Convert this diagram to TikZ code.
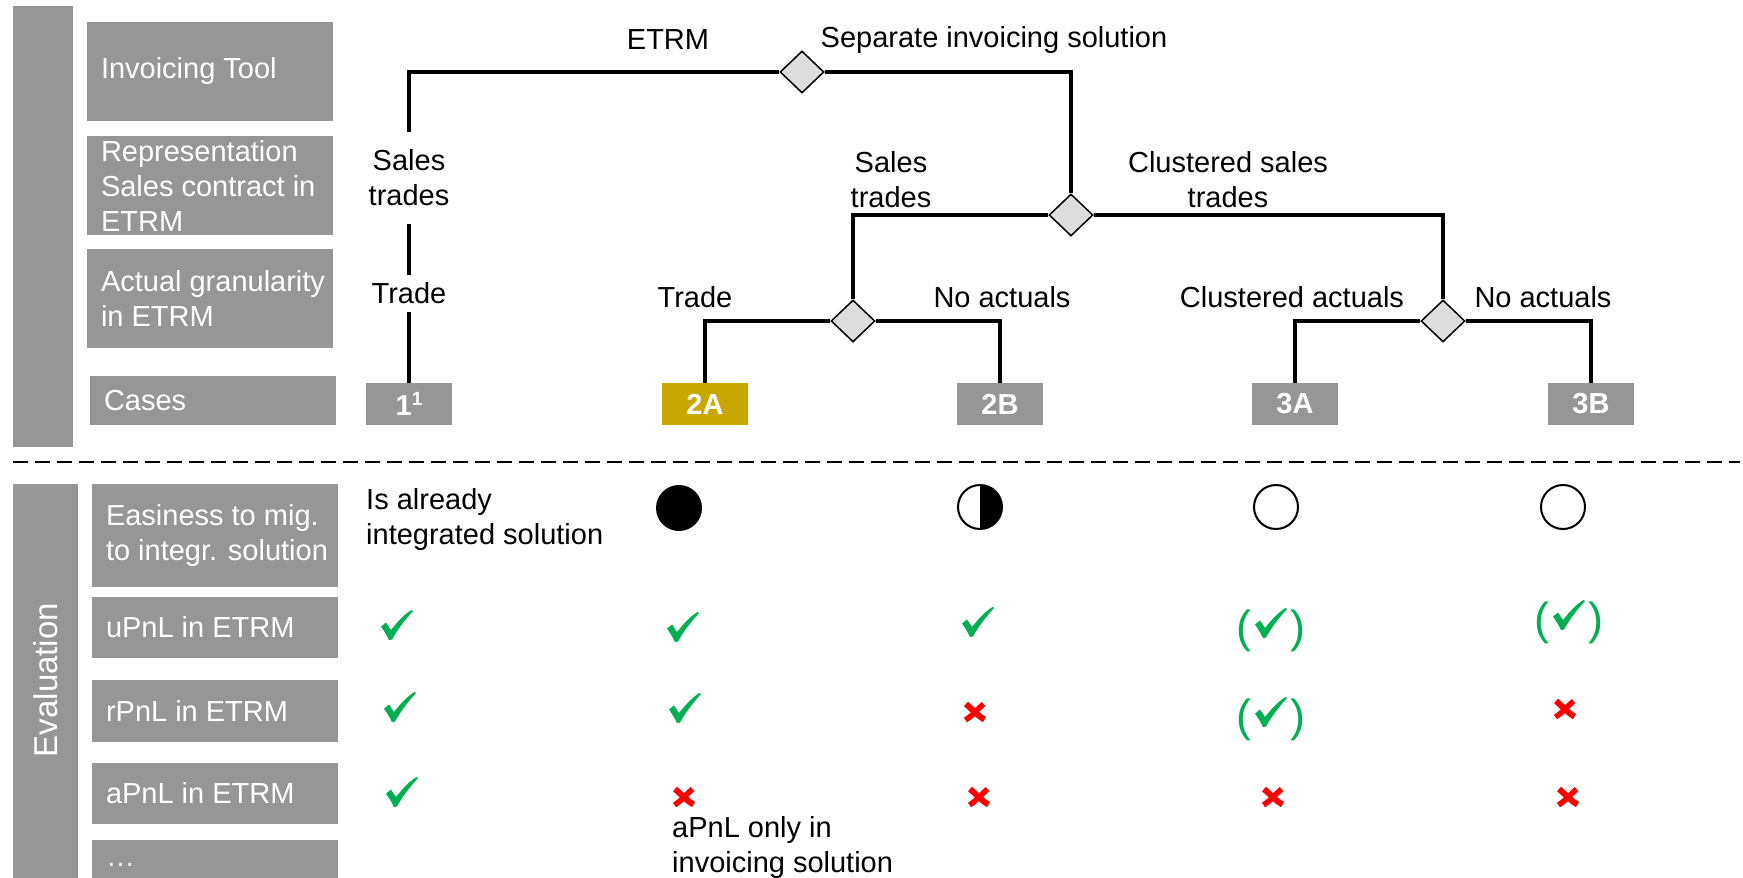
\documentclass[tikz,border=0pt]{standalone}
\usepackage{fontspec}
\setmainfont{Liberation Sans}
\usetikzlibrary{shapes.geometric}

\definecolor{boxgrey}{RGB}{150,150,150}
\definecolor{casegold}{RGB}{200,168,0}
\definecolor{okgreen}{RGB}{0,176,80}
\definecolor{nored}{RGB}{255,0,0}
\definecolor{diafill}{RGB}{221,221,221}

% brush-style check mark, centred on the origin (canvas units)
\newcommand{\checkpath}{(-16pt,-1.5pt) .. controls (-14pt,0.5pt) .. (-11pt,2.5pt)
  -- (-6pt,-5pt) .. controls (2pt,5pt) and (8pt,11pt) .. (14.5pt,15pt)
  -- (16pt,14pt) .. controls (6pt,3pt) and (-1pt,-7pt) .. (-5pt,-14.5pt)
  -- (-8pt,-15pt) .. controls (-11pt,-9pt) .. cycle}

\begin{document}
\begin{tikzpicture}[x=1pt,y=-1pt,
  every node/.style={font=\fontsize{29}{35}\selectfont},
  lbl/.style={inner sep=0pt, align=center},
  rowbox/.style={fill=boxgrey, minimum width=246pt, inner sep=0pt},
  rowtxt/.style={text=white, inner sep=0pt, align=left, anchor=west, xshift=14pt},
  bar/.style={fill=boxgrey, inner sep=0pt},
  casebox/.style={fill=boxgrey, text=white, font=\fontsize{29}{35}\selectfont\bfseries,
                  minimum width=86pt, minimum height=42pt, inner sep=0pt},
  dia/.style={diamond, draw, line width=1.5pt, fill=diafill, minimum width=44pt,
              minimum height=42pt, inner sep=0pt},
  tree/.style={line width=3.2pt},
  circ/.style={circle, draw, line width=2pt, minimum size=44pt, inner sep=0pt},
  okmark/.style={minimum width=36pt, minimum height=34pt, inner sep=0pt,
    path picture={\fill[okgreen, shift={(path picture bounding box.center)}] \checkpath;}},
  paren/.style={inner sep=0pt, text=okgreen, font=\fontsize{45}{45}\selectfont, yshift=-8pt},
  okpar/.style={okmark,
    label={[paren, xshift=-1pt]west:(}, label={[paren, xshift=1pt]east:)}},
  nomark/.style={minimum width=32pt, minimum height=30pt, inner sep=0pt,
    path picture={\begin{scope}[shift={(path picture bounding box.center)}]
      \draw[nored, line width=6pt] (-9pt,8pt) .. controls (-3pt,3pt) and (3pt,-4pt) .. (9.5pt,-7.5pt);
      \draw[nored, line width=5.5pt] (8.5pt,8pt) .. controls (3pt,3pt) and (-3pt,-4pt) .. (-9.5pt,-8pt);
    \end{scope}}},
  note/.style={inner sep=0pt, align=left, anchor=west}
]
\useasboundingbox (0,0) rectangle (1743,878);

% ---------- side bars ----------
\node[bar, minimum width=60pt, minimum height=441pt] (topbar) at (43,226.5) {};
\node[bar, minimum width=65pt, minimum height=396pt] (evalbar) at (45.5,682) {};
\node[rotate=90, text=white, inner sep=0pt, font=\fontsize{33}{33}\selectfont] (evaltxt) at (45.5,680) {Evaluation};

% ---------- row headers (decision tree) ----------
\node[rowbox, minimum height=99pt] (hinv) at (210,71.5) {};
\node[rowbox, minimum height=99pt] (hrep) at (210,185.5) {};
\node[rowbox, minimum height=99pt] (hact) at (210,298.5) {};
\node[rowbox, minimum height=49pt] (hcas) at (213,400.5) {};
\node[rowtxt] (tinv) at (hinv.west) {Invoicing Tool};
\node[rowtxt] (trep) at (hrep.west) {Representation\\Sales contract in\\ETRM};
\node[rowtxt] (tact) at (hact.west) {Actual granularity\\in ETRM};
\node[rowtxt] (tcas) at (hcas.west) {Cases};

% ---------- row headers (evaluation) ----------
\node[rowbox, minimum height=103pt] (heas) at (215,535.5) {};
\node[rowbox, minimum height=61pt] (hupl) at (215,627.5) {};
\node[rowbox, minimum height=62pt] (hrpl) at (215,711) {};
\node[rowbox, minimum height=61pt] (hapl) at (215,793.5) {};
\node[rowbox, minimum height=50pt] (hdots) at (215,865) {};
\node[rowtxt] (teas) at (heas.west) {Easiness to mig.\\to integr. solution};
\node[rowtxt] (tupl) at (hupl.west) {uPnL in ETRM};
\node[rowtxt] (trpl) at (hrpl.west) {rPnL in ETRM};
\node[rowtxt] (tapl) at (hapl.west) {aPnL in ETRM};
\node[rowtxt, text=white!85!boxgrey] (tdots) at (hdots.west) {…};

% ---------- decision diamonds ----------
\node[dia] (d1) at (802,72) {};
\node[dia] (d2) at (1071,215) {};
\node[dia] (d3) at (853,321) {};
\node[dia] (d4) at (1443,321) {};

% ---------- cases ----------
\node[casebox] (c1) at (409,404) {1\raisebox{0.33em}{\fontsize{19}{19}\selectfont 1}};
\node[casebox, fill=casegold] (c2a) at (705,404) {2A};
\node[casebox] (c2b) at (1000,404) {2B};
\node[casebox] (c3a) at (1295,404) {3A};
\node[casebox] (c3b) at (1591,404) {3B};

% ---------- branch labels ----------
\node[lbl] (letrm) at (668,40) {ETRM};
\node[lbl] (lsep) at (994,40) {Separate invoicing solution};
\node[lbl, minimum height=92pt] (st1) at (409,178) {Sales\\trades};
\node[lbl, minimum height=37pt] (tr1) at (409,293.5) {Trade};
\node[lbl] (st2) at (891,180) {Sales\\trades};
\node[lbl] (cst) at (1228,180) {Clustered sales\\trades};
\node[lbl] (tr2) at (695,297) {Trade};
\node[lbl] (na2) at (1002,297) {No actuals};
\node[lbl] (ca3) at (1292,297) {Clustered actuals};
\node[lbl] (na3) at (1543,297) {No actuals};

% ---------- tree connectors ----------
\draw[tree] (d1.west) -| (st1.north);
\draw[tree] (st1.south) -- (tr1.north);
\draw[tree] (tr1.south) -- (c1.north);
\draw[tree] (d1.east) -| (d2.north);
\draw[tree] (d2.west) -| (d3.north);
\draw[tree] (d2.east) -| (d4.north);
\draw[tree] (d3.west) -| (c2a.north);
\draw[tree] (d3.east) -| (c2b.north);
\draw[tree] (d4.west) -| (c3a.north);
\draw[tree] (d4.east) -| (c3b.north);

% ---------- separator ----------
\coordinate (sepl) at (13,462);
\coordinate (sepr) at (1740,462);
\draw[line width=2.5pt, dash pattern=on 15pt off 7pt] (sepl) -- (sepr);

% ---------- evaluation: easiness ----------
\node[note] (e1) at (366,519.5) {Is already\\integrated solution};
\node[circ, fill=black] (e2a) at (679,508) {};
\node[circ, path picture={\fill[black] (path picture bounding box.north) rectangle (path picture bounding box.south east);}] (e2b) at (980,507) {};
\node[circ] (e3a) at (1276,507) {};
\node[circ] (e3b) at (1563,507) {};

% ---------- evaluation: uPnL ----------
\node[okmark] (u1) at (397,625) {};
\node[okmark] (u2a) at (683,627) {};
\node[okmark] (u2b) at (978,622) {};
\node[okpar] (u3a) at (1271,623) {};
\node[okpar] (u3b) at (1569,615) {};

% ---------- evaluation: rPnL ----------
\node[okmark] (r1) at (400,707) {};
\node[okmark] (r2a) at (685,708) {};
\node[nomark] (r2b) at (975,712) {};
\node[okpar] (r3a) at (1271,712) {};
\node[nomark] (r3b) at (1565,709) {};

% ---------- evaluation: aPnL ----------
\node[okmark] (a1) at (402,792) {};
\node[nomark] (a2a) at (684,797) {};
\node[nomark] (a2b) at (979,797) {};
\node[nomark] (a3a) at (1273,797) {};
\node[nomark] (a3b) at (1568,797) {};
\node[note] (a2note) at (672,847.5) {aPnL only in\\invoicing solution};
\end{tikzpicture}
\end{document}
